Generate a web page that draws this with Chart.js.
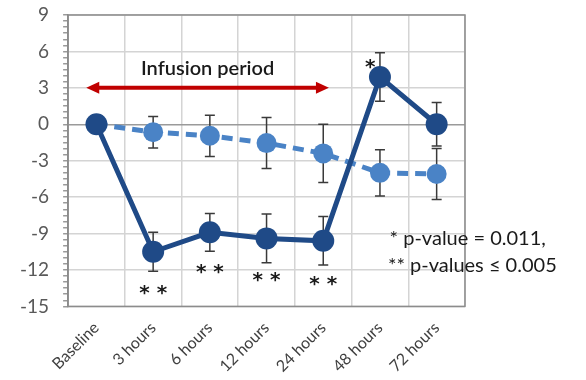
<!DOCTYPE html>
<html lang="en">
<head>
    <meta charset="UTF-8">
    <title>Infusion period chart</title>
    <script src="https://cdn.jsdelivr.net/npm/chart.js"></script>
    <style>
        body {
            margin: 0;
            padding: 0;
            background: #ffffff;
        }
        .chart-box {
            width: 586px;
            height: 380px;
        }
    </style>
</head>
<body>
    <div class="chart-box">
        <canvas id="infusionChart"></canvas>
    </div>

    <script>
        const categories = ['Baseline', '3 hours', '6 hours', '12 hours', '24 hours', '48 hours', '72 hours'];
        const solidMeans = [0, -10.5, -8.9, -9.4, -9.6, 3.9, 0];
        const solidErrors = [0, 1.6, 1.55, 2.0, 2.0, 2.0, 1.8];
        const dashedMeans = [0, -0.65, -0.95, -1.55, -2.4, -4.0, -4.1];
        const dashedErrors = [0, 1.3, 1.7, 2.1, 2.4, 1.9, 2.1];
        const yTicks = [-15, -12, -9, -6, -3, 0, 3, 6, 9];

        // significance marks (label, y value) per category
        const starLabels = ['', '**', '**', '**', '**', '*', ''];
        const starValues = [null, -13.6, -11.9, -12.6, -12.9, 5.0, null];

        const solidColor = '#1f4a87';
        const dashedColor = '#4a83c6';

        // error bars, drawn through the chart scales
        const errorBarPlugin = {
            id: 'errorBars',
            beforeDatasetsDraw(chart) {
                const ctx = chart.ctx;
                const x = chart.scales.x;
                const y = chart.scales.y;
                const sets = [[dashedMeans, dashedErrors], [solidMeans, solidErrors]];
                ctx.save();
                ctx.strokeStyle = '#3a3a3a';
                ctx.lineWidth = 1.5;
                sets.forEach(([means, errs]) => {
                    means.forEach((m, i) => {
                        if (!errs[i]) return;
                        const px = x.getPixelForValue(i);
                        const top = y.getPixelForValue(m + errs[i]);
                        const bot = y.getPixelForValue(m - errs[i]);
                        ctx.beginPath();
                        ctx.moveTo(px, top);
                        ctx.lineTo(px, bot);
                        ctx.moveTo(px - 5, top);
                        ctx.lineTo(px + 5, top);
                        ctx.moveTo(px - 5, bot);
                        ctx.lineTo(px + 5, bot);
                        ctx.stroke();
                    });
                });
                ctx.restore();
            }
        };

        // frame, arrow, and text notes
        const notesPlugin = {
            id: 'notes',
            beforeDatasetsDraw(chart) {
                const ctx = chart.ctx;
                const area = chart.chartArea;
                ctx.save();
                ctx.strokeStyle = '#8c8c8c';
                ctx.lineWidth = 1.5;
                ctx.strokeRect(area.left, area.top, area.right - area.left, area.bottom - area.top);
                ctx.restore();
            },
            afterDatasetsDraw(chart) {
                const ctx = chart.ctx;
                const x = chart.scales.x;
                const y = chart.scales.y;
                ctx.save();

                // infusion arrow
                const ay = y.getPixelForValue(3);
                const ax1 = x.getPixelForValue(-0.18);
                const ax2 = x.getPixelForValue(4.1);
                ctx.strokeStyle = '#c00000';
                ctx.fillStyle = '#c00000';
                ctx.lineWidth = 4;
                ctx.beginPath();
                ctx.moveTo(ax1 + 10, ay);
                ctx.lineTo(ax2 - 10, ay);
                ctx.stroke();
                ctx.beginPath();
                ctx.moveTo(ax1, ay);
                ctx.lineTo(ax1 + 13, ay - 6);
                ctx.lineTo(ax1 + 13, ay + 6);
                ctx.closePath();
                ctx.fill();
                ctx.beginPath();
                ctx.moveTo(ax2, ay);
                ctx.lineTo(ax2 - 13, ay - 6);
                ctx.lineTo(ax2 - 13, ay + 6);
                ctx.closePath();
                ctx.fill();

                ctx.fillStyle = '#1a1a1a';
                ctx.textBaseline = 'middle';
                ctx.textAlign = 'center';
                ctx.font = '600 20px Lato';
                ctx.fillText('Infusion period', x.getPixelForValue(1.96), y.getPixelForValue(4.6));

                // stars
                ctx.font = 'bold 20px "DejaVu Sans"';
                starLabels.forEach((s, i) => {
                    if (!s) return;
                    const shift = s === '*' ? -0.17 : 0;
                    ctx.fillText(s.split('').join(' '), x.getPixelForValue(i + shift), y.getPixelForValue(starValues[i]) + 4);
                });

                // p-value note
                ctx.textAlign = 'left';
                ctx.font = '20px Lato';
                ctx.fillText('* p-value = 0.011,', x.getPixelForValue(5.17), y.getPixelForValue(-9.45));
                ctx.fillText('** p-values \u2264 0.005', x.getPixelForValue(5.14), y.getPixelForValue(-11.6));
                ctx.restore();
            }
        };

        new Chart(document.getElementById('infusionChart'), {
            type: 'line',
            data: {
                labels: categories,
                datasets: [
                    {
                        label: 'Solid',
                        data: solidMeans,
                        borderColor: solidColor,
                        backgroundColor: solidColor,
                        borderWidth: 5,
                        pointRadius: 11,
                        pointHoverRadius: 11,
                        pointBorderWidth: 0,
                        order: 1
                    },
                    {
                        label: 'Dashed',
                        data: dashedMeans,
                        borderColor: dashedColor,
                        backgroundColor: dashedColor,
                        borderWidth: 5,
                        borderDash: [11, 7],
                        pointRadius: 10,
                        pointHoverRadius: 10,
                        pointBorderWidth: 0,
                        order: 2
                    }
                ]
            },
            options: {
                responsive: true,
                maintainAspectRatio: false,
                animation: false,
                layout: {
                    autoPadding: false,
                    padding: { top: 15, right: 121, left: 6, bottom: 0 }
                },
                plugins: {
                    legend: { display: false },
                    tooltip: { enabled: false }
                },
                scales: {
                    x: {
                        offset: true,
                        afterFit: (scale) => {
                            scale.height -= 8;
                        },
                        grid: {
                            offset: true,
                            color: '#d4d4d4',
                            lineWidth: 1.5,
                            drawTicks: false
                        },
                        border: { display: false },
                        ticks: {
                            minRotation: 45,
                            maxRotation: 45,
                            padding: 12,
                            color: '#404040',
                            font: { family: 'Lato', size: 16 }
                        }
                    },
                    y: {
                        min: -15,
                        max: 9,
                        afterFit: (scale) => {
                            scale.paddingTop = 10;
                            scale.paddingBottom = 10;
                        },
                        grid: {
                            color: (c) => {
                                const v = c.tick ? c.tick.value : null;
                                if (v === 0) return '#9a9a9a';
                                return yTicks.includes(v) ? '#d4d4d4' : 'rgba(0,0,0,0)';
                            },
                            tickColor: '#9a9a9a',
                            tickLength: 5,
                            lineWidth: 1.5
                        },
                        border: { color: '#8c8c8c', width: 1.5 },
                        ticks: {
                            stepSize: 0.5,
                            autoSkip: false,
                            padding: 14,
                            color: '#595959',
                            font: { family: 'Lato', size: 19 },
                            callback: (v) => yTicks.includes(v) ? String(v) : ''
                        }
                    }
                }
            },
            plugins: [errorBarPlugin, notesPlugin]
        });
    </script>
</body>
</html>
